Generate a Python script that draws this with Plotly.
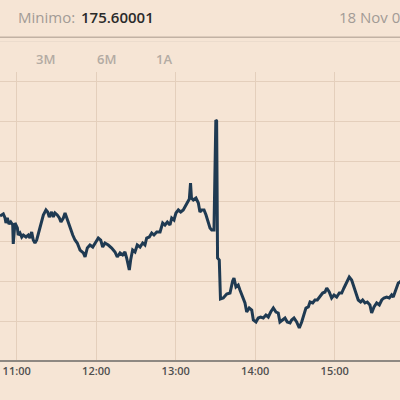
import pandas as pd
import plotly.graph_objects as go

# minutes after 10:00 on the trading day
minutes = [
    47.4, 48.7, 49.9, 51.2, 51.9, 52.9, 54.2, 55.5, 57.0, 57.4, 58.7, 60.5, 61.2, 62.5, 63.8, 65.0,
    67.0, 68.8, 70.0, 71.3, 72.5, 73.8, 75.1, 77.1, 78.9, 80.1, 82.1, 83.4, 84.6, 86.4, 87.6, 88.9,
    90.6, 92.2, 93.4, 95.2, 96.5, 97.7, 99.0, 100.8, 102.3, 104.0, 105.7, 107.2,
    107.8, 110.3, 111.6, 113.3, 115.3, 117.4, 119.1, 121.6, 123.4, 124.9, 126.6, 129.1, 131.7, 134.2,
    135.9, 138.0, 140.0, 141.7, 143.0, 145.0, 146.0, 147.5, 149.3, 151.0, 153.1, 155.1, 156.8, 158.1,
    160.1, 161.9, 163.6, 165.7,
    168.2, 170.2, 171.9, 173.7, 175.7, 177.0, 178.7, 180.2, 182.0, 183.8, 185.7, 187.0, 188.3, 190.3,
    191.2, 191.9, 193.3, 195.3, 197.1, 198.3, 199.6, 201.4, 202.9, 204.6, 205.9, 207.2, 208.9, 210.3,
    210.9, 211.6, 212.9, 213.8, 215.9, 218.5, 221.0, 223.0, 224.0, 225.5, 227.2, 228.5,
    230.6, 232.3, 233.6, 235.5, 237.4, 238.6, 240.6, 242.3, 244.1, 246.1, 248.1, 249.9, 251.7, 253.7,
    255.7, 257.4, 258.7, 260.8, 262.5, 264.2, 266.3, 267.5, 269.3, 271.3, 273.3, 275.1, 276.8, 278.3,
    280.1, 281.4, 283.4, 285.1, 286.9,
    288.9, 290.9, 292.7, 294.0, 295.9, 297.7, 299.5, 301.5, 303.5, 305.3, 307.0, 309.1, 311.0, 312.8,
    314.6, 316.1, 317.8, 319.6, 321.1, 322.9, 324.6, 326.6, 327.9, 329.7, 331.7, 333.7, 335.5, 337.2,
    339.2, 341.2, 343.0, 344.2, 346.3, 348.0, 349.3, 350.8,
]

prices = [
    176.16, 176.165, 176.17, 176.15, 176.125, 176.15, 176.12, 176.13, 176.115, 176.02, 176.125, 176.10,
    176.065, 176.075, 176.055, 176.065, 176.055, 176.065, 176.05, 176.08, 176.04, 176.025, 176.04, 176.09,
    176.13, 176.165, 176.19, 176.18, 176.155, 176.18, 176.155, 176.175, 176.165, 176.15, 176.13, 176.15,
    176.175, 176.15, 176.125, 176.09, 176.065, 176.04, 176.025, 176.00,
    175.99, 175.975, 175.955, 176.00, 176.015, 176.005, 176.025, 176.05, 176.04, 176.005, 176.025, 176.015,
    176.00, 175.98, 175.955, 175.975, 175.965, 175.98, 175.95, 175.89, 175.94, 175.99, 175.98, 176.015,
    176.005, 176.025, 176.015, 176.05, 176.055, 176.075, 176.065, 176.08,
    176.08, 176.125, 176.115, 176.13, 176.115, 176.15, 176.14, 176.175, 176.19, 176.18, 176.19, 176.205,
    176.225, 176.245, 176.325, 176.25, 176.24, 176.25, 176.225, 176.18, 176.19, 176.19, 176.165, 176.13,
    176.10, 176.09, 176.09, 176.64, 176.635, 175.95, 175.94, 175.745, 175.75, 175.77, 175.775, 175.835,
    175.85, 175.805, 175.815, 175.79,
    175.755, 175.725, 175.68, 175.70, 175.69, 175.64, 175.63, 175.65, 175.655, 175.65, 175.665, 175.655,
    175.68, 175.70, 175.68, 175.675, 175.63, 175.64, 175.65, 175.63, 175.625, 175.64, 175.65, 175.63,
    175.60, 175.63, 175.665, 175.70, 175.705, 175.73, 175.725, 175.74, 175.74,
    175.755, 175.775, 175.78, 175.80, 175.78, 175.75, 175.765, 175.755, 175.775, 175.775, 175.80, 175.83,
    175.855, 175.84, 175.80, 175.775, 175.74, 175.73, 175.74, 175.725, 175.73, 175.715, 175.675, 175.705,
    175.725, 175.715, 175.74, 175.75, 175.755, 175.75, 175.765, 175.755, 175.80, 175.825, 175.83, 175.84,
]

header_label = "Minimo:"
header_value = "175.60001"
date_label = "18 Nov 09:00"
range_buttons = ["3M", "6M", "1A"]
next_hour_label = "16:00"

base = pd.Timestamp("2019-11-18 10:00")
times = base + pd.to_timedelta(minutes, unit="m")

BG = "#f6e5d5"
GRID = "#e4cfbc"
LINE = "#1f3a52"
FONT = "Open Sans"

fig = go.Figure()
fig.add_trace(go.Scatter(
    x=times, y=prices, mode="lines",
    line=dict(color=LINE, width=3),
    hoverinfo="skip", showlegend=False,
))

# plot domain: y pixels 72 (top) .. 360 (bottom)
def py(pix):
    return (360 - pix) / 288.0

annots = [
    dict(text=header_label, x=16 / 400, y=py(17), xanchor="left", yanchor="middle",
         font=dict(family=FONT, size=15, color="#a29b95")),
    dict(text=header_value, x=79 / 400, y=py(17), xanchor="left", yanchor="middle",
         font=dict(family=FONT, size=15, color="#2a2a2a", weight=600)),
    dict(text=date_label, x=337 / 400, y=py(17), xanchor="left", yanchor="middle",
         font=dict(family=FONT, size=15, color="#a29b95")),
    dict(text=next_hour_label, x=414 / 400, y=py(373), xanchor="center", yanchor="middle",
         font=dict(family=FONT, size=11, color="#4f4f4f", weight=600)),
]
for lbl, cx in zip(range_buttons, [45, 106, 164]):
    annots.append(dict(text=lbl, x=cx / 400, y=py(59), xanchor="center", yanchor="middle",
                       font=dict(family=FONT, size=13, color="#b3aba3", weight=600)))
for a in annots:
    a.update(xref="paper", yref="paper", showarrow=False)

fig.update_layout(
    width=400, height=400,
    margin=dict(l=0, r=0, t=72, b=40, pad=0, autoexpand=False),
    paper_bgcolor=BG, plot_bgcolor=BG,
    annotations=annots,
    shapes=[
        dict(type="line", xref="paper", yref="paper", x0=0, x1=1, y0=py(37.3), y1=py(37.3),
             line=dict(color="#c2b2a4", width=1.5)),
        dict(type="line", xref="paper", yref="paper", x0=0, x1=1, y0=py(41.5), y1=py(41.5),
             line=dict(color="#ecdccd", width=1)),
    ],
    xaxis=dict(
        type="date", automargin=False,
        range=["2019-11-18 10:47:24", "2019-11-18 15:49:18"],
        tickformat="%H:%M", tick0="2019-11-18 11:00", dtick=3600000,
        showgrid=True, gridcolor=GRID, gridwidth=1,
        showline=True, linecolor="#8e8882", linewidth=2,
        ticks="", tickfont=dict(family=FONT, size=11, color="#4f4f4f", weight=600),
        zeroline=False, fixedrange=True,
    ),
    yaxis=dict(
        automargin=False,
        range=[175.44, 176.88], tick0=175.635, dtick=0.2,
        showgrid=True, gridcolor=GRID, gridwidth=1,
        showticklabels=False, zeroline=False, showline=False, ticks="", fixedrange=True,
    ),
)

fig.write_html(
    "out.html",
    config={"displayModeBar": False},
    post_script="document.body.style.margin='0';document.body.style.background='" + BG + "';",
)
